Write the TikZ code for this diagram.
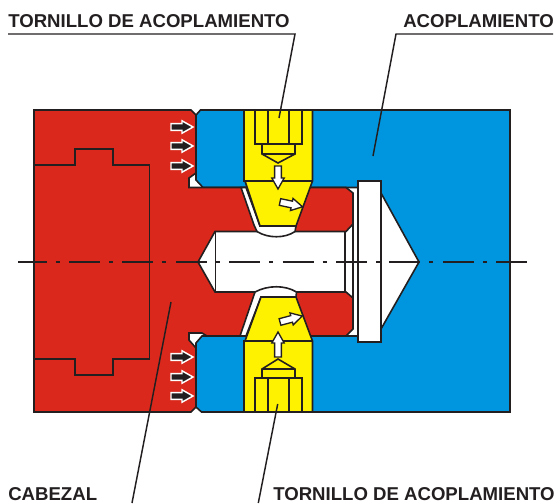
\documentclass[tikz,border=0pt]{standalone}
\usepackage{fontspec}
\setmainfont{Liberation Sans}
\definecolor{head-red}{HTML}{DA291C}
\definecolor{coupling-blue}{HTML}{0096DF}
\definecolor{screw-yellow}{HTML}{FFF200}
\definecolor{ink}{HTML}{231F20}
\tikzset{
  part/.style={draw=ink,line width=1.2pt,line join=miter},
  callout/.style={draw=ink,line width=1.1pt},
  caption/.style={anchor=base west,inner sep=0pt,text=ink,font=\fontsize{13.95}{16}\selectfont\bfseries},
  axis/.style={draw=ink,line width=0.8pt,dash pattern=on 23.25pt off 6.75pt on 3pt off 7.05pt,dash phase=1.8pt},
  press/.style={fill=ink,draw=white,line width=1.1pt},
  hollow/.style={fill=white,draw=ink,line width=1pt}
}
% arrow: [style]{tail x}{tail y}{angle}{length}
\newcommand{\forcearrow}[5][hollow]{%
\begin{scope}[shift={(#2,#3)},rotate=#4]
\path[#1] (0,-3.4) -- (#5-11,-3.4) -- (#5-11,-6.2) -- (#5,0) -- (#5-11,6.2) -- (#5-11,3.4) -- (0,3.4) -- cycle;
\end{scope}
}
\begin{document}
\begin{tikzpicture}[x=0.75pt,y=-0.75pt]
\useasboundingbox (0,0) rectangle (556,503);
% coupling
\path[part,fill=coupling-blue] (200.5,110) -- (510,110) -- (510,412) -- (201.5,412) -- (196,407) -- (196,343) -- (202,336) -- (358,336) -- (358,187.5) -- (203,187.5) -- (196,180) -- (196,115) -- cycle;
% head
\path[part,fill=head-red] (34,110) -- (191,110) -- (196,115) -- (196,173) -- (189,178) -- (189,187.5) -- (346,187.5) -- (353,193) -- (353,224) -- (346,231.5) -- (215,231.5) -- (198,262) -- (215,292) -- (346,292) -- (353,298) -- (353,329) -- (346,336) -- (207,336) -- (202,333) -- (189,333) -- (189,340) -- (196,348) -- (196,407) -- (191,412) -- (34,412) -- cycle;
\draw[part] (34,165) -- (75,165) -- (75,149) -- (113,149) -- (113,165) -- (149.5,165) -- (149.5,359) -- (113,359) -- (113,375) -- (75,375) -- (75,359) -- (34,359);
\draw[part] (215.5,231.5) -- (215.5,292);
\draw[part] (345,231.5) -- (345,292);
\draw[part] (353,224) -- (353,298);
% flange and cone
\path[part,fill=white] (381,193) -- (419,262) -- (381,329) -- cycle;
\path[part,fill=white] (358,181) rectangle (381,342);
% upper screw
\path[part,fill=white] (241,187.5) -- (254,225) -- (257,231.5) .. controls (268,238.5) and (285,238.5) .. (295,231.5) -- (296,226) -- (260,226) -- (246,187.5) -- cycle;
\path[part,fill=screw-yellow] (244,110) -- (312.5,110) -- (312.5,181) -- (296,226) -- (260,226) -- (245,181) -- (244,181) -- cycle;
\draw[part] (244,181) -- (312.5,181);
\draw[part] (255,110) -- (255,144) -- (302,144) -- (302,110);
\foreach \xtick in {268,289} {
  \draw[part] (\xtick,110) -- (\xtick,144);
}
\draw[part] (262,144) -- (262,154) -- (278,163) -- (295,154) -- (295,144);
\draw[part] (262,154) -- (295,154);
% lower screw
\path[part,fill=white] (240,336) -- (255,292) .. controls (268,285) and (285,285) .. (296.5,292) -- (296,297) -- (261,297) -- (246,336) -- cycle;
\path[part,fill=screw-yellow] (244,412) -- (312.5,412) -- (312.5,341) -- (296,297) -- (261,297) -- (245,341) -- (244,341) -- cycle;
\draw[part] (244,341) -- (312.5,341);
\draw[part] (255,412) -- (255,378) -- (302,378) -- (302,412);
\foreach \xtick in {268,289} {
  \draw[part] (\xtick,412) -- (\xtick,378);
}
\draw[part] (262,378) -- (262,369) -- (278,359) -- (295,369) -- (295,378);
\draw[part] (262,369) -- (295,369);
% force arrows
\foreach \ytail in {127,146,166,357,377,396} {
  \forcearrow[press]{171}{\ytail}{0}{22}
}
\forcearrow{278}{166}{-90}{23}
\forcearrow{278}{357}{90}{25}
\forcearrow{280}{202}{-12}{23}
\forcearrow{280}{322}{15}{23}
% centre line
\draw[axis] (18,262) -- (527,262);
% captions
\node[caption] (tornillo-top) at (8,27.5) {TORNILLO DE ACOPLAMIENTO};
\node[caption] (acoplamiento) at (403,27.5) {ACOPLAMIENTO};
\node[caption] (cabezal) at (8,500) {CABEZAL};
\node[caption] (tornillo-bottom) at (273,500) {TORNILLO DE ACOPLAMIENTO};
% callout lines
\coordinate (tornillo-top-start) at (8,34);
\coordinate (tornillo-top-knee) at (295,34);
\coordinate (tornillo-top-end) at (279,118);
\coordinate (acoplamiento-start) at (553,34);
\coordinate (acoplamiento-knee) at (396,34);
\coordinate (acoplamiento-end) at (373,156);
\coordinate (cabezal-start) at (132,503);
\coordinate (cabezal-end) at (171,302);
\coordinate (tornillo-bottom-start) at (258.3,503);
\coordinate (tornillo-bottom-end) at (277.7,404);
\draw[callout] (tornillo-top-start) -- (tornillo-top-knee) -- (tornillo-top-end);
\draw[callout] (acoplamiento-start) -- (acoplamiento-knee) -- (acoplamiento-end);
\draw[callout] (cabezal-start) -- (cabezal-end);
\draw[callout] (tornillo-bottom-start) -- (tornillo-bottom-end);
\end{tikzpicture}
\end{document}
